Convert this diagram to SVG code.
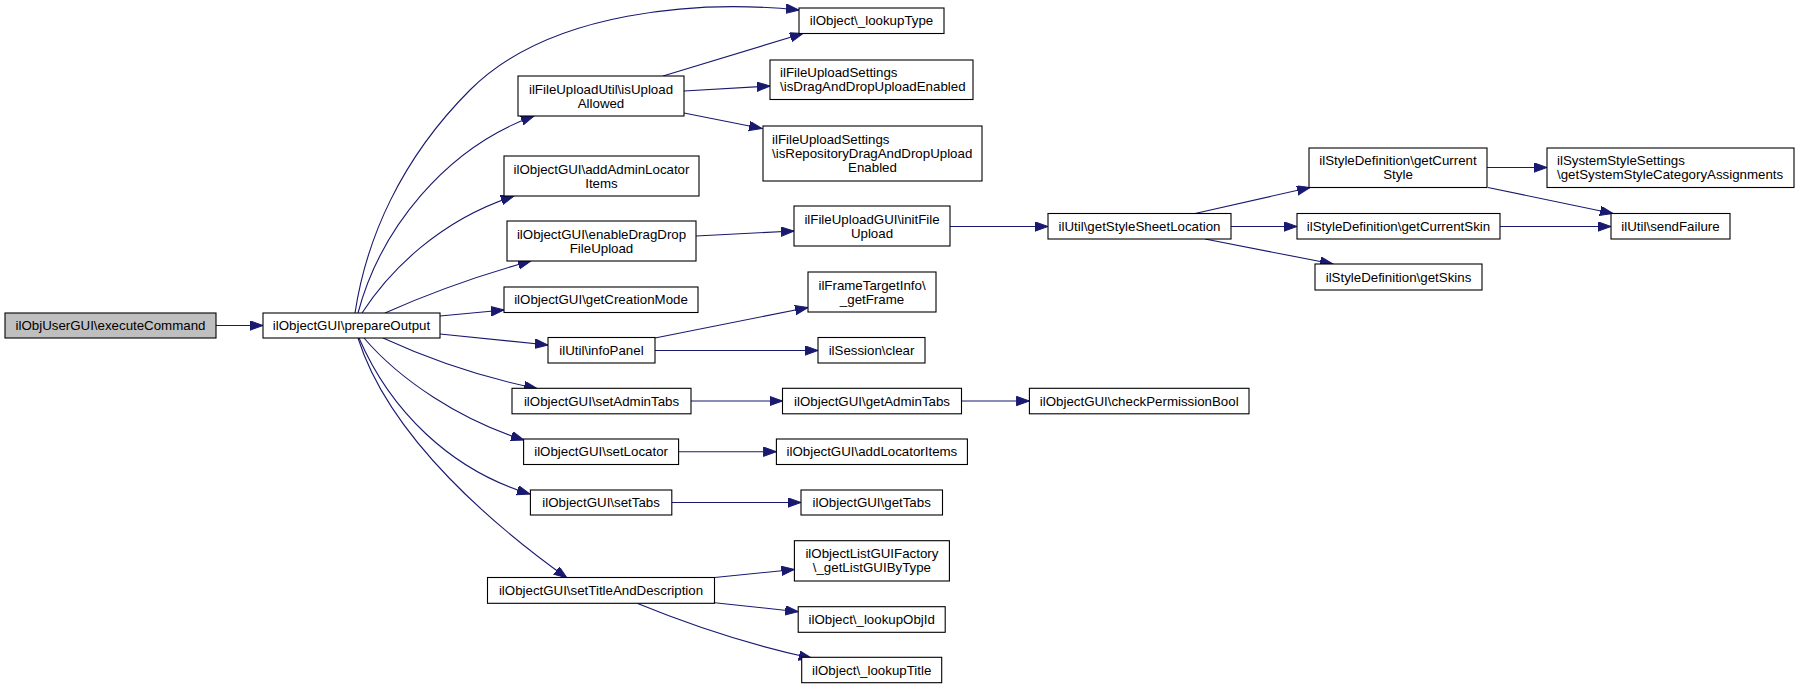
<svg xmlns="http://www.w3.org/2000/svg" width="1803" height="689" viewBox="0 0 1803 689">
<style>
.n rect{fill:#fff;stroke:#000;stroke-width:1.1}
.n.root rect{fill:#bfbfbf}
.n text{font-family:"Liberation Sans",Arial,Helvetica,sans-serif;font-size:13.3px;fill:#000;text-anchor:middle}
.n text.l{text-anchor:start}
.e path{fill:none;stroke:#191970;stroke-width:1.1;marker-end:url(#ah)}
</style>
<defs>
<marker id="ah" markerWidth="15" markerHeight="11" refX="13" refY="4.7" orient="auto" markerUnits="userSpaceOnUse">
<path d="M0,0 L13,4.7 L0,9.4 z" fill="#191970" stroke="#191970" stroke-width="1"/>
</marker>
</defs>
<rect width="1803" height="689" fill="#fff"/>
<g id="edges" class="e">
<path d="M216,325.5 L263,325.5"/>
<path d="M355,313 C366,240 400,160 470,90 C550,10 700,0 799,10"/>
<path d="M358,313 C380,230 445,148 534,116"/>
<path d="M362,313 C390,270 440,220 514,196"/>
<path d="M385,313 C430,293 480,275 531,261"/>
<path d="M440,316 L504,310"/>
<path d="M440,334 L548,345"/>
<path d="M383,338 C420,355 470,375 537,388.5"/>
<path d="M364,338 C400,380 460,420 524,440"/>
<path d="M359,338 C390,410 450,470 530,494"/>
<path d="M358,338 C390,440 500,530 567,578"/>
<path d="M663,76 L803,33.5"/>
<path d="M684,91 L770,86"/>
<path d="M684,113 L762,128.5"/>
<path d="M696,236 L794,231"/>
<path d="M950,226.5 L1048,226.5"/>
<path d="M1195,213.5 L1310,187.5"/>
<path d="M1231,226.5 L1297,226.5"/>
<path d="M1205,239 L1333,264"/>
<path d="M1487,167.5 L1547,167.5"/>
<path d="M1488,187.5 L1613,213.5"/>
<path d="M1500,226.5 L1611,226.5"/>
<path d="M655,338 L808,307.5"/>
<path d="M655,350.5 L818,350.5"/>
<path d="M691,401 L782.5,401"/>
<path d="M961.6,401 L1029.4,401"/>
<path d="M678.6,451.7 L776.4,451.7"/>
<path d="M672,502.5 L801,502.5"/>
<path d="M714.6,577.5 L794.4,569.5"/>
<path d="M714.6,602.7 L798.2,611.7"/>
<path d="M637,603.3 C690,625 750,645 811.8,658.3"/>
</g>
<g id="n_executeCommand" class="n root"><rect x="5" y="313" width="211" height="25"/><text x="110.5" y="330">ilObjUserGUI\executeCommand</text></g>
<g id="n_prepareOutput" class="n"><rect x="263" y="313" width="177" height="25"/><text x="351.5" y="330">ilObjectGUI\prepareOutput</text></g>
<g id="n_lookupType" class="n"><rect x="799" y="8" width="145" height="25.5"/><text x="871.5" y="25.2">ilObject\_lookupType</text></g>
<g id="n_isUploadAllowed" class="n"><rect x="518" y="76" width="166" height="40"/><text x="601" y="93.5">ilFileUploadUtil\isUpload</text><text x="601" y="107.5">Allowed</text></g>
<g id="n_isDragAndDropUploadEnabled" class="n"><rect x="770" y="60" width="203" height="39.5"/><text class="l" x="780" y="77.3">ilFileUploadSettings</text><text class="l" x="780" y="91.3">\isDragAndDropUploadEnabled</text></g>
<g id="n_isRepositoryDragAndDropUploadEnabled" class="n"><rect x="763" y="126" width="219" height="55"/><text class="l" x="772" y="143.7">ilFileUploadSettings</text><text class="l" x="772" y="157.7">\isRepositoryDragAndDropUpload</text><text x="872.5" y="171.7">Enabled</text></g>
<g id="n_addAdminLocatorItems" class="n"><rect x="504" y="156" width="195" height="40"/><text x="601.5" y="173.5">ilObjectGUI\addAdminLocator</text><text x="601.5" y="187.5">Items</text></g>
<g id="n_enableDragDropFileUpload" class="n"><rect x="507" y="221" width="189" height="40"/><text x="601.5" y="238.5">ilObjectGUI\enableDragDrop</text><text x="601.5" y="252.5">FileUpload</text></g>
<g id="n_initFileUpload" class="n"><rect x="794" y="206" width="156" height="40"/><text x="872" y="223.5">ilFileUploadGUI\initFile</text><text x="872" y="237.5">Upload</text></g>
<g id="n_getStyleSheetLocation" class="n"><rect x="1048" y="213.5" width="183" height="25.5"/><text x="1139.5" y="230.7">ilUtil\getStyleSheetLocation</text></g>
<g id="n_getCurrentStyle" class="n"><rect x="1309" y="148" width="178" height="39.5"/><text x="1398" y="165.2">ilStyleDefinition\getCurrent</text><text x="1398" y="179.2">Style</text></g>
<g id="n_getSystemStyleCategoryAssignments" class="n"><rect x="1547" y="148" width="247" height="39.5"/><text class="l" x="1557" y="165.2">ilSystemStyleSettings</text><text class="l" x="1557" y="179.2">\getSystemStyleCategoryAssignments</text></g>
<g id="n_getCurrentSkin" class="n"><rect x="1297" y="213.5" width="203" height="25.5"/><text x="1398.5" y="230.7">ilStyleDefinition\getCurrentSkin</text></g>
<g id="n_sendFailure" class="n"><rect x="1611" y="213.5" width="119" height="25.5"/><text x="1670.5" y="230.7">ilUtil\sendFailure</text></g>
<g id="n_getSkins" class="n"><rect x="1315" y="264" width="167" height="26"/><text x="1398.5" y="281.5">ilStyleDefinition\getSkins</text></g>
<g id="n_getCreationMode" class="n"><rect x="504" y="287" width="194" height="25.5"/><text x="601" y="304.2">ilObjectGUI\getCreationMode</text></g>
<g id="n_getFrame" class="n"><rect x="808" y="272" width="128" height="40"/><text x="872" y="289.5">ilFrameTargetInfo\</text><text x="872" y="303.5">_getFrame</text></g>
<g id="n_infoPanel" class="n"><rect x="548" y="337.5" width="107" height="25.5"/><text x="601.5" y="354.7">ilUtil\infoPanel</text></g>
<g id="n_clear" class="n"><rect x="818" y="337.5" width="107" height="25.5"/><text x="871.5" y="354.7">ilSession\clear</text></g>
<g id="n_setAdminTabs" class="n"><rect x="512" y="388.3" width="179" height="25.5"/><text x="601.5" y="405.5">ilObjectGUI\setAdminTabs</text></g>
<g id="n_getAdminTabs" class="n"><rect x="782.5" y="388.3" width="179" height="25.5"/><text x="872" y="405.5">ilObjectGUI\getAdminTabs</text></g>
<g id="n_checkPermissionBool" class="n"><rect x="1029.4" y="388.3" width="219.6" height="25.5"/><text x="1139.2" y="405.5">ilObjectGUI\checkPermissionBool</text></g>
<g id="n_setLocator" class="n"><rect x="523.6" y="439" width="155" height="25.5"/><text x="601.1" y="456.2">ilObjectGUI\setLocator</text></g>
<g id="n_addLocatorItems" class="n"><rect x="776.4" y="439" width="191" height="25.5"/><text x="871.9" y="456.2">ilObjectGUI\addLocatorItems</text></g>
<g id="n_setTabs" class="n"><rect x="530.4" y="490" width="141.4" height="25"/><text x="601.1" y="507">ilObjectGUI\setTabs</text></g>
<g id="n_getTabs" class="n"><rect x="801" y="490" width="141.5" height="25"/><text x="871.7" y="507">ilObjectGUI\getTabs</text></g>
<g id="n_setTitleAndDescription" class="n"><rect x="487.5" y="577.5" width="227" height="25.8"/><text x="601" y="594.8">ilObjectGUI\setTitleAndDescription</text></g>
<g id="n_getListGUIByType" class="n"><rect x="794.4" y="540.7" width="155" height="40.3"/><text x="871.9" y="558.3">ilObjectListGUIFactory</text><text x="871.9" y="572.3">\_getListGUIByType</text></g>
<g id="n_lookupObjId" class="n"><rect x="798.2" y="606.7" width="147" height="25.6"/><text x="871.7" y="624">ilObject\_lookupObjId</text></g>
<g id="n_lookupTitle" class="n"><rect x="801.7" y="657.3" width="140" height="25.4"/><text x="871.7" y="674.5">ilObject\_lookupTitle</text></g>
</svg>
